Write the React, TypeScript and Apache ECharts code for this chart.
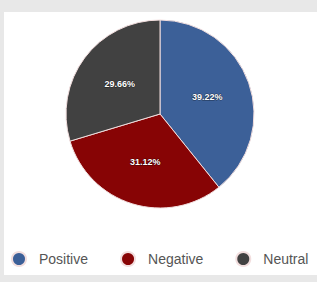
import React, { useEffect, useRef } from "react";
import * as echarts from "echarts";

const categories = ["Positive", "Negative", "Neutral"];
const values = [39.22, 31.12, 29.66];
const colors = ["#3c6098", "#870405", "#414141"];

export default function App() {
  const ref = useRef<HTMLDivElement>(null);
  useEffect(() => {
    if (!ref.current) return;
    const chart = echarts.init(ref.current, null, { renderer: "svg" });
    chart.setOption({
      animation: false,
      color: colors,
      graphic: [
        { type: "rect", shape: { x: 0, y: 0, width: 317, height: 282 }, style: { fill: "#e8e8e8" }, z: -10, silent: true },
        { type: "rect", shape: { x: 4, y: 12, width: 313, height: 263 }, style: { fill: "#ffffff" }, z: -9, silent: true },
      ],
      legend: {
        left: 11,
        top: 251,
        width: 306,
        padding: 0,
        orient: "horizontal",
        icon: "circle",
        itemWidth: 14,
        itemHeight: 14,
        itemGap: 32,
        textStyle: { fontSize: 14, color: "#555", fontFamily: "Liberation Sans, Arial, sans-serif", padding: [0, 0, 0, 8] },
        data: categories,
      },
      series: [
        {
          type: "pie",
          center: [160, 114],
          radius: [0, 94],
          startAngle: 90,
          clockwise: true,
          itemStyle: { borderColor: "#f2dede", borderWidth: 1 },
          label: {
            show: true,
            position: "inside",
            formatter: (p: any) => p.value.toFixed(2) + "%",
            color: "#fff",
            fontSize: 9,
            fontWeight: "bold",
            fontFamily: "Liberation Sans, Arial, sans-serif",
            textBorderColor: "rgba(0,0,0,0.5)",
            textBorderWidth: 1,
          },
          labelLine: { show: false },
          emphasis: { disabled: true },
          data: categories.map((c, i) => ({ name: c, value: values[i] })),
        },
      ],
    });
    return () => chart.dispose();
  }, []);
  return (
    <div style={{ position: "absolute", left: 0, top: 0, width: 317, height: 282 }}>
      <div ref={ref} style={{ width: 317, height: 282 }} />
    </div>
  );
}
